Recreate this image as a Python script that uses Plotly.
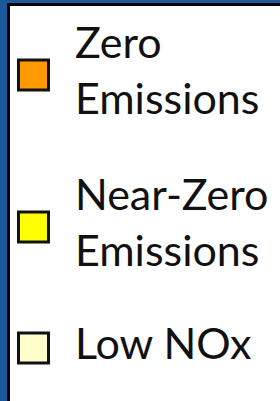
import plotly.graph_objects as go

# Legend entries (categories) and their swatch colours
categories = ["Zero<br>Emissions", "Near-Zero<br>Emissions", "Low NOx"]
colors = ["#FF9900", "#FFFF00", "#FFFFCC"]

# layout: vertical centre of each entry (pixel-like coordinates of the plot area)
ENTRY_Y = [75, 227, 348]
SWATCH_X = 33.5
TEXT_X = 75

W, H = 280, 401
ML, MT = 10, 6

fig = go.Figure()
fig.add_trace(go.Scatter(
    x=[SWATCH_X] * len(categories), y=ENTRY_Y, mode="markers",
    marker=dict(symbol="square", size=30, color=colors,
                line=dict(color="#111111", width=3)),
    hoverinfo="skip", showlegend=False, cliponaxis=False))
fig.add_trace(go.Scatter(
    x=[TEXT_X] * len(categories), y=ENTRY_Y, mode="text",
    text=categories, textposition="middle right",
    textfont=dict(family="Lato", size=43, color="#111111"),
    hoverinfo="skip", showlegend=False, cliponaxis=False))

fig.update_layout(
    template="none",
    width=W, height=H,
    margin=dict(l=ML, r=0, t=MT, b=0, pad=0, autoexpand=False),
    paper_bgcolor="#1A5A9C",
    plot_bgcolor="#FFFFFF",
    xaxis=dict(range=[ML, W], showgrid=False, zeroline=False, automargin=False,
               showticklabels=False, ticks="", side="top",
               showline=True, linecolor="#000000", linewidth=3, fixedrange=True),
    yaxis=dict(range=[H, MT], showgrid=False, zeroline=False, automargin=False,
               showticklabels=False, ticks="",
               showline=True, linecolor="#000000", linewidth=3, fixedrange=True),
)
fig.write_html("out.html", config={"displayModeBar": False},
               post_script="document.body.style.margin='0';document.body.style.overflow='hidden';")
